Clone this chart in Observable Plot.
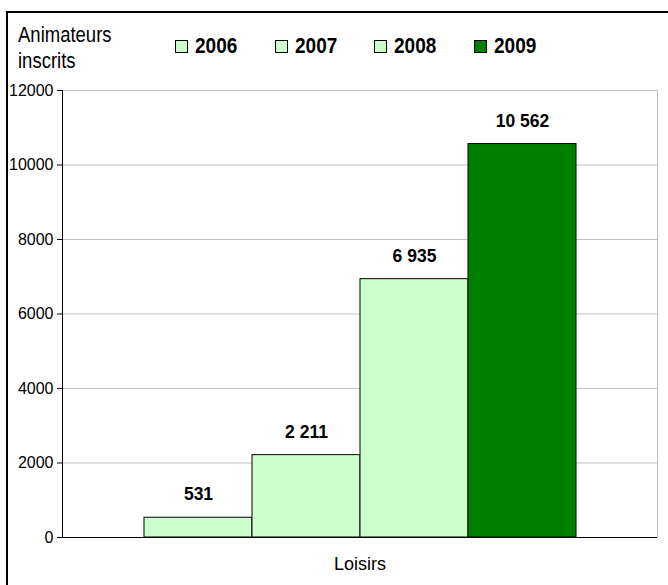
<!DOCTYPE html>
<html>
<head>
<meta charset="utf-8">
<script src="https://cdn.jsdelivr.net/npm/d3@7"></script>
<script src="https://cdn.jsdelivr.net/npm/@observablehq/plot@0.6"></script>
<style>
  body { margin: 0; background: #fff; font-family: "Liberation Sans", Arial, sans-serif; }
  #wrap { position: relative; width: 668px; height: 585px; overflow: hidden; }
  #border { position: absolute; left: 6px; top: 11px; width: 700px; height: 620px; border: 2px solid #000; pointer-events: none; z-index: 5; }
  #header { position: relative; height: 78px; }
  #title { position: absolute; left: 18px; top: 21px; font-size: 18.5px; line-height: 23px; color: #000; transform: scaleY(1.15); transform-origin: top left; }
  .item { position: absolute; top: 35px; display: flex; align-items: center; font-weight: bold; font-size: 19px; color: #000; }
  .item span { display: inline-block; transform: scaleY(1.15); }
  .sw { width: 11px; height: 11px; border: 1px solid #000; margin-right: 7px; }
  svg { background: transparent !important; }
</style>
</head>
<body>
<div id="wrap">
  <div id="border"></div>
  <div id="header">
    <div id="title">Animateurs<br>inscrits</div>
    <div id="legend"></div>
  </div>
  <div id="chart"></div>
</div>
<script>
const categories = ["Loisirs"];
const years = ["2006", "2007", "2008", "2009"];
const values = [531, 2211, 6935, 10562];
const colors = ["#ccffcc", "#ccffcc", "#ccffcc", "#008000"];
const yTicks = [0, 2000, 4000, 6000, 8000, 10000, 12000];

const fr = d3.formatLocale({decimal: ",", thousands: " ", grouping: [3]}).format(",d");
const data = years.map((y, i) => ({year: y, value: values[i], color: colors[i], category: categories[0]}));

// legend
const legend = document.getElementById("legend");
const legendX = [175, 275, 374, 474];
years.forEach((y, i) => {
  const it = document.createElement("div");
  it.className = "item";
  it.style.left = legendX[i] + "px";
  it.innerHTML = `<div class="sw" style="background:${colors[i]}"></div><span>${y}</span>`;
  legend.appendChild(it);
});

const chart = Plot.plot({
  width: 668,
  height: 507,
  marginLeft: 62,
  marginRight: 11,
  marginTop: 12,
  marginBottom: 48,
  style: {fontFamily: "Liberation Sans, Arial, sans-serif", fontSize: "16px", color: "#000", background: "transparent"},
  x: {domain: years, paddingInner: 0, paddingOuter: 0.742, axis: null},
  y: {domain: [0, 12000], ticks: yTicks, axis: null},
  color: {type: "identity"},
  marks: [
    Plot.gridY(yTicks, {stroke: "#c0c0c0", strokeOpacity: 1}),
    Plot.frame({stroke: "#c0c0c0", strokeOpacity: 1}),
    Plot.barY(data, {x: "year", y: "value", fill: "color", stroke: "#000", strokeWidth: 1}),
    Plot.ruleY([0], {stroke: "#000"}),
    Plot.frame({anchor: "left", stroke: "#000"}),
    Plot.axisY(yTicks, {tickSize: 5, tickPadding: 4, stroke: "#000", fill: "#000", fontSize: 16, tickFormat: d => String(d), label: null}),
    Plot.text(data, {x: "year", y: "value", text: d => fr(d.value), dy: -23, fontWeight: "bold", fontSize: 17.5, fill: "#000"}),
    Plot.text(categories, {frameAnchor: "bottom", dy: 32, text: d => d, fontSize: 18, fill: "#000"})
  ]
});
document.getElementById("chart").appendChild(chart);
</script>
</body>
</html>
